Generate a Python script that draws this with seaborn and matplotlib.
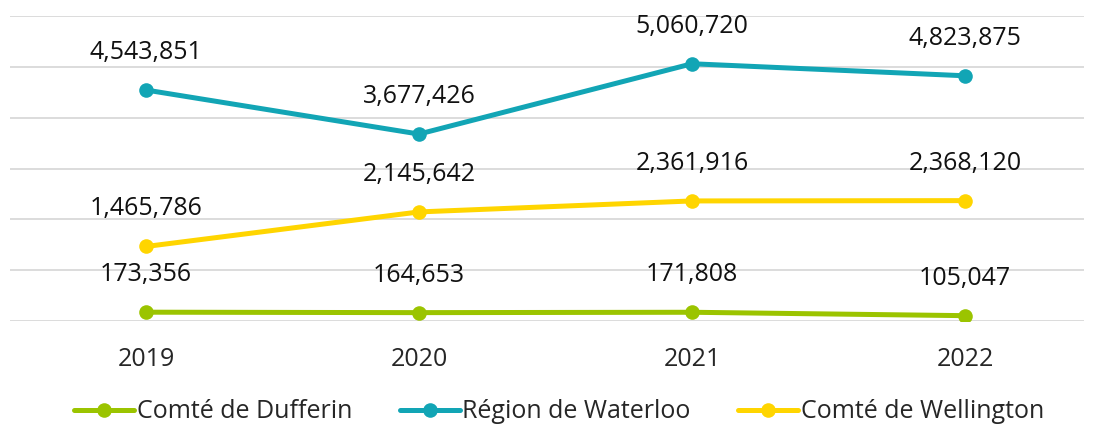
import numpy as np
import pandas as pd
import matplotlib.pyplot as plt
import seaborn as sns

sns.set_theme(style='white')
plt.rcParams['font.family'] = ['Open Sans', 'DejaVu Sans']

years = ['2019', '2020', '2021', '2022']
dufferin = [173356, 164653, 171808, 105047]
waterloo = [4543851, 3677426, 5060720, 4823875]
wellington = [1465786, 2145642, 2361916, 2368120]

series = ['Comté de Dufferin', 'Région de Waterloo', 'Comté de Wellington']
colors = ['#9BC400', '#12A5B5', '#FFD500']

df = pd.DataFrame({
    'year': years * 3,
    'value': dufferin + waterloo + wellington,
    'region': np.repeat(series, len(years)),
})
df['x'] = np.tile(np.arange(len(years)), 3)

fig = plt.figure(figsize=(10.94, 4.28), dpi=100)
ax = fig.add_axes([9.5 / 1094, 1 - 321 / 428, (1084 - 9.5) / 1094, (321 - 16) / 428])

sns.lineplot(data=df, x='x', y='value', hue='region', palette=colors,
             marker='o', markersize=10.5, markeredgewidth=0, linewidth=3.6,
             ax=ax, legend=False)

for s, c in zip(series, colors):
    sub = df[df['region'] == s]
    for xv, yv in zip(sub['x'], sub['value']):
        ax.annotate(f'{yv:,}', (xv, yv), xytext=(0, 27), textcoords='offset points',
                    ha='center', va='center', fontsize=18, color='#111111')

ax.set_xlim(-0.5, (1084 - 146) / 273)
ax.set_ylim(0, 6000000)
ax.set_yticks(np.arange(0, 6000001, 1000000))
ax.set_yticklabels([])
ax.set_xticks(range(len(years)))
ax.set_xticklabels(years, fontsize=18)
ax.tick_params(axis='x', length=0, pad=19)
ax.tick_params(axis='y', length=0)
ax.set_xlabel('')
ax.set_ylabel('')
ax.grid(axis='y', color='#d9d9d9', linewidth=1.3)
for sp in ax.spines.values():
    sp.set_visible(False)

handles = [plt.Line2D([], [], color=c, marker='o', markersize=10.5, markeredgewidth=0, linewidth=3.6)
           for c in colors]
fig.legend(handles, series, loc='center', bbox_to_anchor=(0.511, 1 - 412 / 428), ncol=3,
           frameon=False, fontsize=18, handlelength=2.4, handletextpad=0.1, columnspacing=1.9)

fig.savefig('out.png', dpi=100, facecolor='white')
